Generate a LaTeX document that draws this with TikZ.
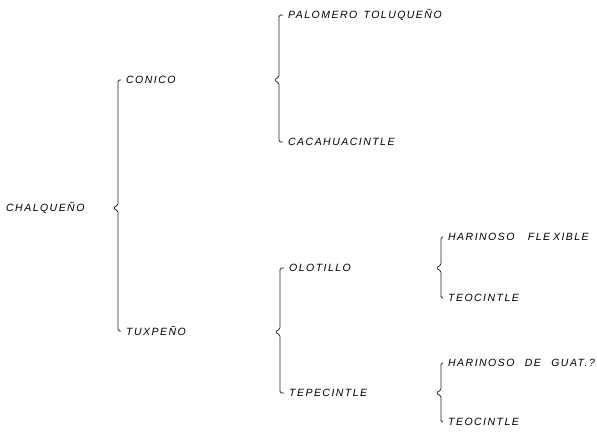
\documentclass[tikz,border=0pt]{standalone}
\usepackage{fontspec}
\setmainfont{Liberation Sans}
\newfontfamily\rotulofont[LetterSpace=14]{Liberation Sans}
\usetikzlibrary{calc}

% llave: #1 punta, #2 rama de arriba, #3 rama de abajo
\newcommand{\llave}[3]{%
  \draw[llave] (#2.west) -- ([xshift=5pt]#1 |- #2.west)
    -- ([xshift=5pt,yshift=3pt]#1) -- (#1) -- ([xshift=5pt,yshift=-3pt]#1)
    -- ([xshift=5pt]#1 |- #3.west) -- (#3.west);}
\newcommand{\hueco}{\hspace{6pt} }

\begin{document}
\begin{tikzpicture}[x=1pt,y=-1pt,
  rama/.style={font=\rotulofont\itshape\fontsize{10.5}{12}\selectfont,anchor=west,inner xsep=5pt,inner ysep=3pt},
  llave/.style={draw=black!85,line width=.8pt,rounded corners=1.5pt}]

\useasboundingbox (0,0) rectangle (597,433);

\node[rama,inner sep=0pt] (chalqueno) at (6,208) {CHALQUEÑO};

\coordinate (t1) at (113,208);
\node[rama] (conico) at (121,80) {CONICO};
\node[rama] (tuxpeno) at (121,331) {TUXPEÑO};
\llave{t1}{conico}{tuxpeno}

\coordinate (t2) at (274,80);
\node[rama] (palomero) at (283,15) {PALOMERO\hspace{2pt} TOLUQUEÑO};
\node[rama] (cacahuacintle) at (283,142) {CACAHUACINTLE};
\llave{t2}{palomero}{cacahuacintle}

\coordinate (t3) at (275,332);
\node[rama] (olotillo) at (284,268) {OLOTILLO};
\node[rama] (tepecintle) at (284,393) {TEPECINTLE};
\llave{t3}{olotillo}{tepecintle}

\coordinate (t4) at (436,268);
\node[rama] (flexible) at (443,237) {HARINOSO\hspace{9pt} FLE\hspace{3pt}XIBLE};
\node[rama] (teocintle1) at (443,298) {TEOCINTLE};
\llave{t4}{flexible}{teocintle1}

\coordinate (t5) at (436,393);
\node[rama] (guatemala) at (443,363) {HARINOSO\hueco DE\hueco GUAT.?};
\node[rama] (teocintle2) at (443,422) {TEOCINTLE};
\llave{t5}{guatemala}{teocintle2}

\end{tikzpicture}
\end{document}
